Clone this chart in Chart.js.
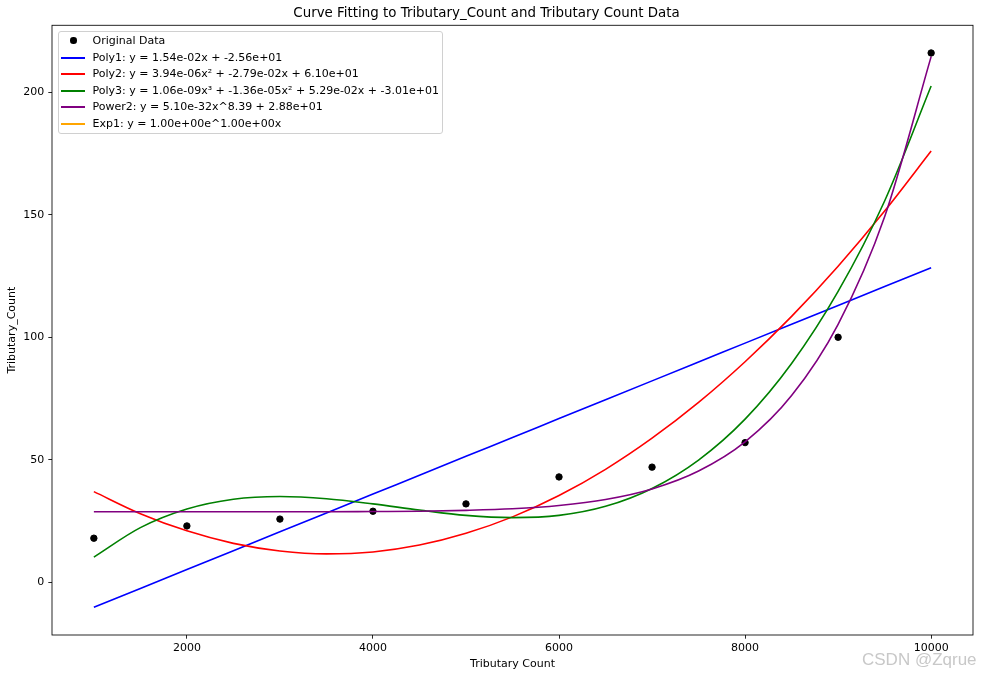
<!DOCTYPE html>
<html>
<head>
<meta charset="utf-8">
<script src="https://cdn.jsdelivr.net/npm/chart.js@4.4.1/dist/chart.umd.min.js"></script>
<style>
  html, body { margin: 0; padding: 0; background: #fff; }
  #wrap { position: relative; width: 981px; height: 678px; }
  #legend { position: absolute; left: 58px; top: 31px; width: 383px; height: 101px;
            border: 1px solid #d0d0d0; border-radius: 3px; background: rgba(255,255,255,0.8);
            font: 11px "DejaVu Sans"; color: #000; }
  .row { position: absolute; left: 0; width: 100%; height: 17px; }
  .row .h { position: absolute; left: 2px; top: 8px; width: 24px; height: 2px; }
  .row .d { position: absolute; left: 11px; top: 5px; width: 6.5px; height: 6.5px; border-radius: 50%; }
  .row .t { position: absolute; left: 33.5px; top: 0; line-height: 17px; white-space: nowrap; }
  #mark { position: absolute; left: 862px; top: 649px; font: 17px "Liberation Sans"; color: #c8c8c8; line-height: 22px; }
</style>
</head>
<body>
<div id="wrap">
  <canvas id="fitChart"></canvas>
  <div id="legend"></div>
  <div id="mark">CSDN @Zqrue</div>
</div>
<script>
// observed points
var xData = [1000, 2000, 3000, 4000, 5000, 6000, 7000, 8000, 9000, 10000];
var yData = [18, 23, 25.8, 29, 32, 43, 47, 57, 100, 216];

// fitted curves, every 500
var xFit = [1000, 1500, 2000, 2500, 3000, 3500, 4000, 4500, 5000, 5500,
            6000, 6500, 7000, 7500, 8000, 8500, 9000, 9500, 10000];
var poly1 = [-10.2, -2.5, 5.2, 12.9, 20.6, 28.3, 36.0, 43.7, 51.4, 59.1,
             66.8, 74.5, 82.2, 89.9, 97.6, 105.3, 113.0, 120.7, 128.4];
var poly2 = [37.0, 28.0, 21.0, 15.9, 12.8, 11.6, 12.4, 15.2, 20.0, 26.7,
             35.4, 46.1, 58.8, 73.4, 90.0, 108.5, 129.0, 151.5, 176.0];
var poly3 = [10.3, 22.3, 29.9, 33.9, 35.0, 34.1, 32.0, 29.5, 27.3, 26.4,
             27.3, 31.0, 38.3, 49.9, 66.6, 89.3, 118.7, 155.6, 202.5];
var power2 = [28.8, 28.8, 28.8, 28.8, 28.8, 28.8, 28.9, 29.0, 29.35, 30.0,
              31.35, 33.8, 38.1, 45.4, 57.3, 76.2, 105.3, 149.2, 214.5];
var exp1 = [];

var seriesNames = [
    'Original Data',
    'Poly1: y = 1.54e-02x + -2.56e+01',
    'Poly2: y = 3.94e-06x² + -2.79e-02x + 6.10e+01',
    'Poly3: y = 1.06e-09x³ + -1.36e-05x² + 5.29e-02x + -3.01e+01',
    'Power2: y = 5.10e-32x^8.39 + 2.88e+01',
    'Exp1: y = 1.00e+00e^1.00e+00x'
];
var seriesColors = ['#000000', '#0000ff', '#ff0000', '#008000', '#800080', '#ffa500'];

var xTicks = [2000, 4000, 6000, 8000, 10000];
var yTicks = [0, 50, 100, 150, 200];

function pairs(xs, ys) {
    return ys.map(function (y, i) { return { x: xs[i], y: y }; });
}

function curve(idx, ys, order) {
    return {
        label: seriesNames[idx],
        data: pairs(xFit, ys),
        showLine: true,
        borderColor: seriesColors[idx],
        backgroundColor: seriesColors[idx],
        borderWidth: 1.6,
        pointRadius: 0,
        cubicInterpolationMode: 'monotone',
        order: order
    };
}

function plain(v) { return String(v); }

Chart.defaults.font.family = '"DejaVu Sans"';
Chart.defaults.font.size = 11;
Chart.defaults.color = '#000';

var framePlugin = {
    id: 'frame',
    afterDatasetsDraw: function (chart) {
        var a = chart.chartArea, ctx = chart.ctx;
        ctx.save();
        ctx.strokeStyle = '#000';
        ctx.lineWidth = 0.85;
        ctx.strokeRect(a.left, a.top, a.right - a.left, a.bottom - a.top);
        ctx.restore();
    }
};

var chart = new Chart(document.getElementById('fitChart'), {
    type: 'scatter',
    data: {
        datasets: [
            {
                label: seriesNames[0],
                data: pairs(xData, yData),
                backgroundColor: '#000',
                borderColor: '#000',
                pointRadius: 3.2,
                pointHoverRadius: 3.2,
                order: 10
            },
            curve(1, poly1, 4),
            curve(2, poly2, 3),
            curve(3, poly3, 2),
            curve(4, power2, 1),
            curve(5, exp1, 0)
        ]
    },
    options: {
        responsive: true,
        maintainAspectRatio: false,
        animation: false,
        layout: { padding: { left: 0, right: 8, top: 0, bottom: 0 } },
        plugins: {
            legend: { display: false },
            tooltip: { enabled: false },
            title: {
                display: true,
                text: 'Curve Fitting to Tributary_Count and Tributary Count Data',
                font: { size: 13.4, weight: 'normal' },
                color: '#000',
                padding: { top: 5.8, bottom: 3.4 }
            }
        },
        scales: {
            x: {
                type: 'linear',
                min: 550,
                max: 10450,
                afterBuildTicks: function (s) { s.ticks = xTicks.map(function (v) { return { value: v }; }); },
                afterFit: function (s) { s.height = 43; },
                ticks: { padding: 3, maxRotation: 0, autoSkip: false, callback: plain },
                grid: { display: true, drawOnChartArea: false, drawTicks: true, tickLength: 3.7, color: '#000', lineWidth: 0.85 },
                border: { display: false },
                title: { display: true, text: 'Tributary Count', padding: { top: 0, bottom: 7.4 } }
            },
            y: {
                type: 'linear',
                min: -21.5,
                max: 227.3,
                afterBuildTicks: function (s) { s.ticks = yTicks.map(function (v) { return { value: v }; }); },
                afterFit: function (s) { s.width = 52; },
                ticks: { padding: 4, autoSkip: false, callback: plain },
                grid: { display: true, drawOnChartArea: false, drawTicks: true, tickLength: 3.7, color: '#000', lineWidth: 0.85 },
                border: { display: false },
                title: { display: true, text: 'Tributary_Count', padding: { top: 5.4, bottom: 0 } }
            }
        }
    },
    plugins: [framePlugin]
});

// legend box inside the axes, built from the datasets
var legendBox = document.getElementById('legend');
var rowTops = [0, 17, 33, 50, 66, 83];
chart.data.datasets.forEach(function (ds, i) {
    var row = document.createElement('div');
    row.className = 'row';
    row.style.top = rowTops[i] + 'px';
    var mark = document.createElement('span');
    mark.className = i === 0 ? 'd' : 'h';
    mark.style.background = i === 0 ? ds.backgroundColor : ds.borderColor;
    var txt = document.createElement('span');
    txt.className = 't';
    txt.textContent = ds.label;
    row.appendChild(mark);
    row.appendChild(txt);
    legendBox.appendChild(row);
});
</script>
</body>
</html>
